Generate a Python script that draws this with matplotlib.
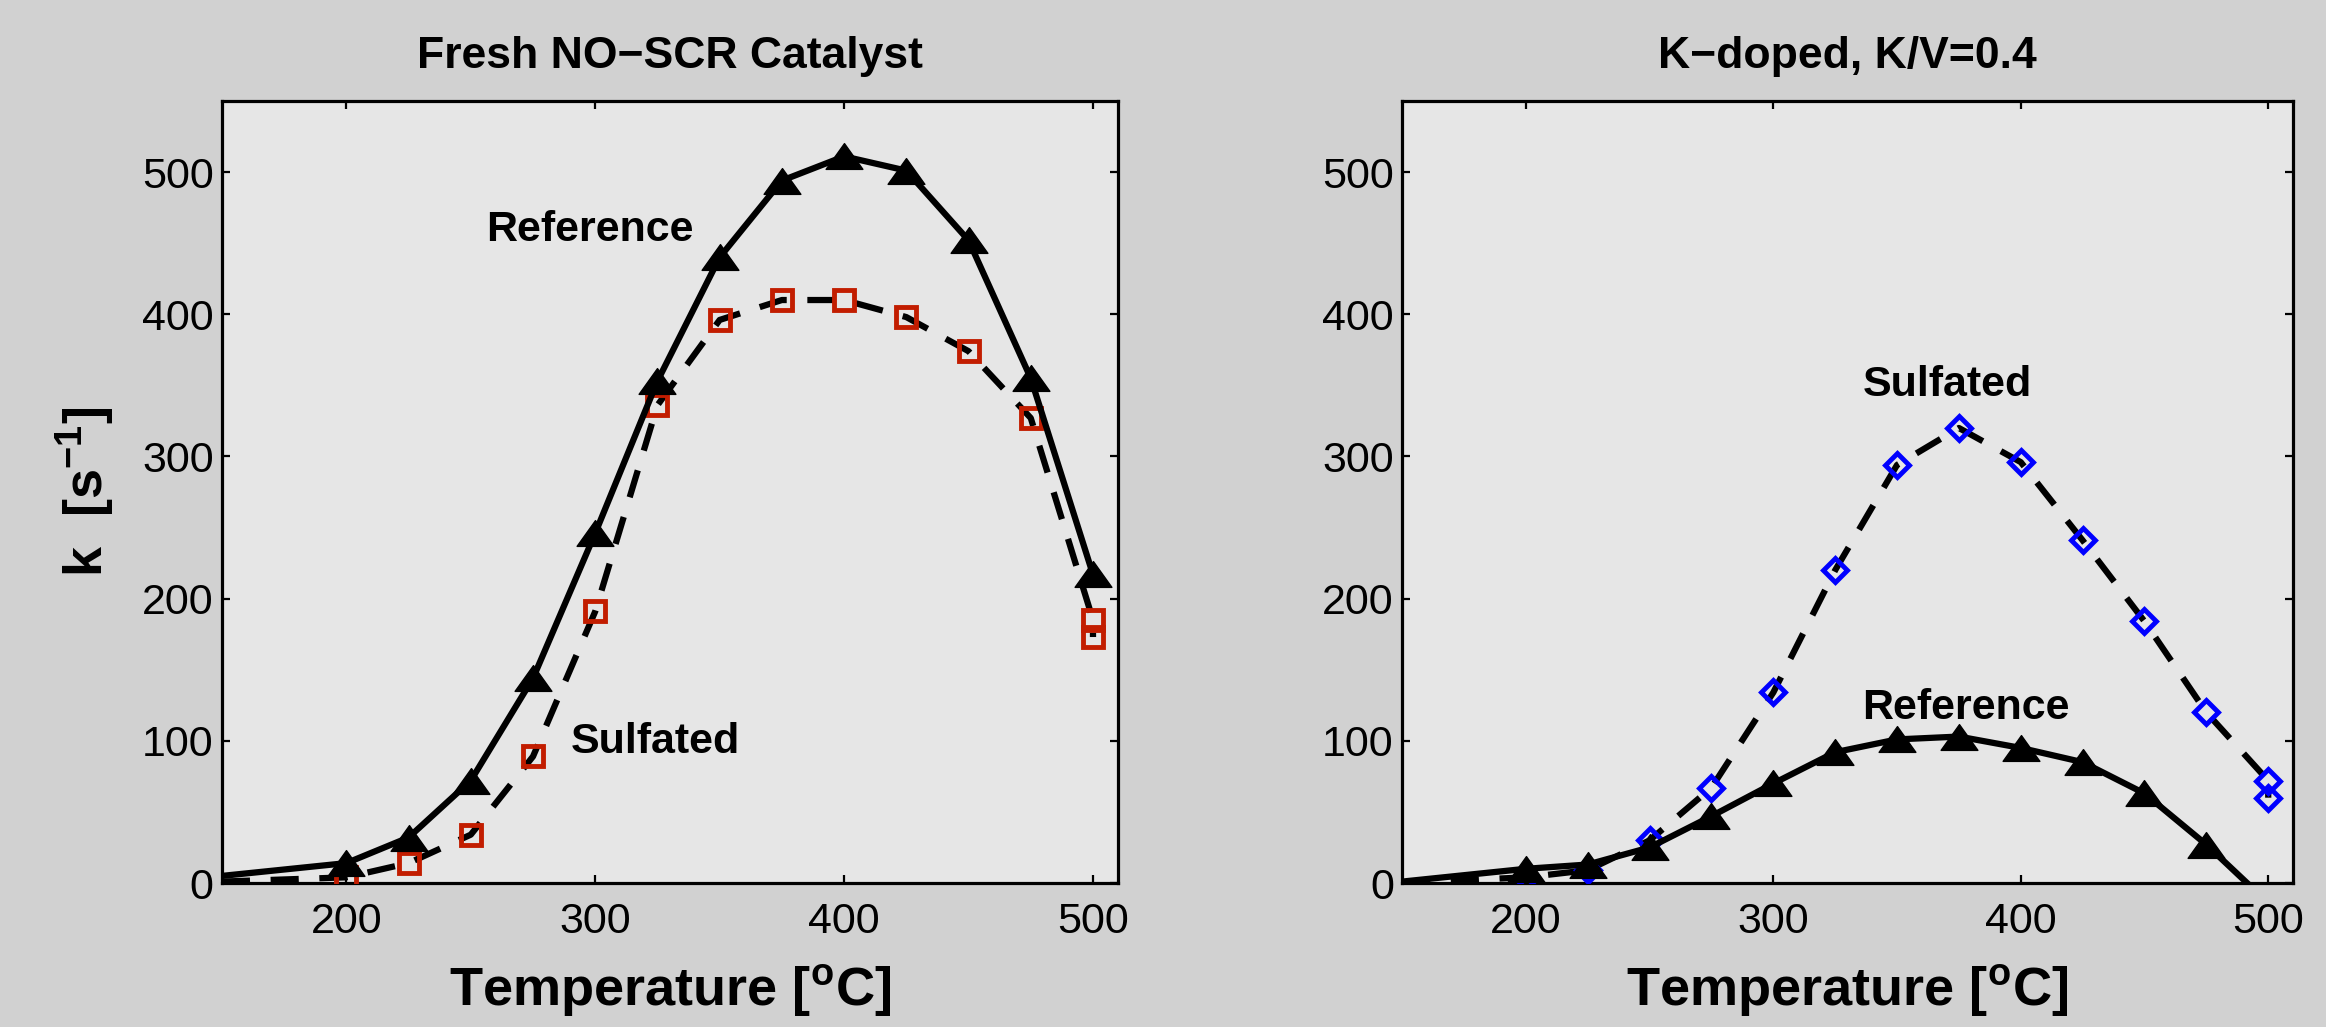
import matplotlib.pyplot as plt
import numpy as np
from matplotlib.path import Path

plt.rcParams['font.family'] = ['Liberation Sans', 'DejaVu Sans']
plt.rcParams['mathtext.fontset'] = 'custom'
plt.rcParams['mathtext.rm'] = 'Liberation Sans'
plt.rcParams['mathtext.bf'] = 'Liberation Sans:bold'

# temperatures [C]; first point (150) has no marker
temp = [150, 200, 225, 250, 275, 300, 325, 350, 375, 400, 425, 450, 475, 500]
temp_s = temp + [500]

# fresh catalyst
fresh_ref = [5, 14, 32, 72, 144, 246, 353, 440, 494, 511, 501, 452, 355, 217]
fresh_sulf = [1, 4, 14, 34, 89, 191, 336, 396, 410, 410, 398, 374, 327, 185, 173]

# K-doped, K/V=0.4
kdop_ref = [1, 10, 13, 25, 47, 70, 92, 101, 103, 95, 85, 63, 27, -14]
kdop_sulf = [0, 4, 9, 30, 67, 134, 220, 294, 320, 296, 241, 184, 120, 72, 60]

x_ticks = [200, 300, 400, 500]
y_ticks = [0, 100, 200, 300, 400, 500]

bg = '#d1d1d1'
axbg = '#e6e6e6'
red = '#c21d00'
blue = '#0000ff'

tri = Path([(0, 0.7), (-1, -0.7), (1, -0.7), (0, 0.7)],
           [Path.MOVETO, Path.LINETO, Path.LINETO, Path.CLOSEPOLY])
dash = (0, (4.5, 3.3))

fig = plt.figure(figsize=(23.26, 10.27), dpi=100, facecolor=bg)
ax1 = fig.add_axes([0.0954, 0.1402, 0.3852, 0.7615])
ax2 = fig.add_axes([0.6028, 0.1402, 0.3830, 0.7615])


def style(ax, title):
    ax.set_facecolor(axbg)
    ax.set_xlim(150, 510)
    ax.set_ylim(0, 550)
    ax.set_xticks(x_ticks)
    ax.set_yticks(y_ticks)
    ax.tick_params(direction='in', length=6, width=1.6, labelsize=31,
                   top=True, right=True)
    ax.tick_params(axis='x', pad=14)
    ax.tick_params(axis='y', pad=6)
    for s in ax.spines.values():
        s.set_linewidth(2.3)
    ax.set_title(title, fontsize=32, fontweight='bold', pad=24)
    ax.set_xlabel(r'Temperature [$^{\mathbf{o}}$C]', fontsize=39,
                  fontweight='bold', labelpad=14)


# left panel
ax1.plot(temp_s, fresh_sulf, color='k', lw=4.5, ls=dash, zorder=2)
ax1.plot(temp_s[1:], fresh_sulf[1:], ls='none', marker='s', ms=14.5,
         mfc='none', mec=red, mew=3.5, zorder=3)
ax1.plot(temp, fresh_ref, color='k', lw=4.5, marker=tri, ms=26.5,
         mfc='k', mec='k', mew=1, markevery=list(range(1, len(temp))),
         zorder=4)
ax1.text(256, 459, 'Reference', fontsize=31, fontweight='bold',
         ha='left', va='center')
ax1.text(290, 99, 'Sulfated', fontsize=31, fontweight='bold',
         ha='left', va='center')
style(ax1, 'Fresh NO\u2212SCR Catalyst')
ax1.set_ylabel(r'k  [s$^{\mathbf{-1}}$]', fontsize=39, fontweight='bold')
ax1.yaxis.set_label_coords(-0.117, 0.5)

# right panel
ax2.plot(temp_s, kdop_sulf, color='k', lw=4.5, ls=dash, zorder=2)
ax2.plot(temp_s[1:], kdop_sulf[1:], ls='none', marker='D', ms=12,
         mfc='none', mec=blue, mew=3.5, zorder=3)
ax2.plot(temp, kdop_ref, color='k', lw=4.5, marker=tri, ms=26.5,
         mfc='k', mec='k', mew=1, markevery=list(range(1, len(temp))),
         zorder=4)
ax2.text(336, 350, 'Sulfated', fontsize=31, fontweight='bold',
         ha='left', va='center')
ax2.text(336, 123, 'Reference', fontsize=31, fontweight='bold',
         ha='left', va='center')
style(ax2, 'K\u2212doped, K/V=0.4')

fig.savefig('out.png', dpi=100, facecolor=bg)
